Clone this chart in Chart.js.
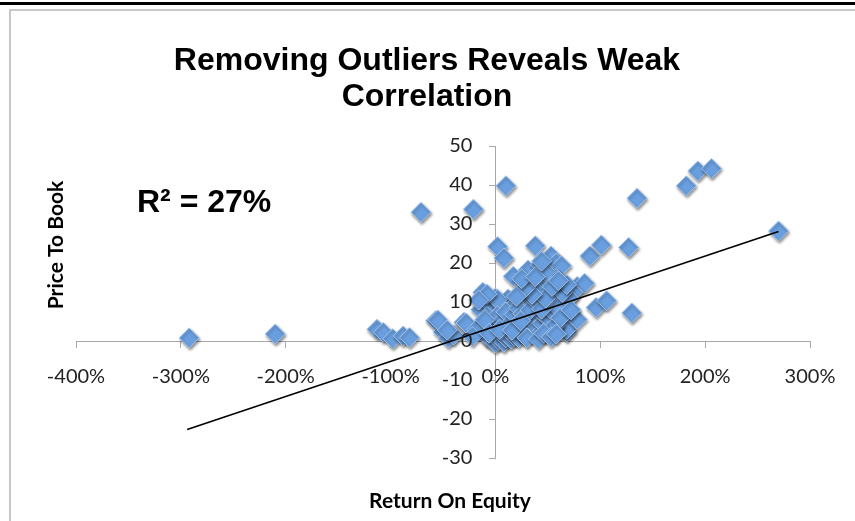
<!DOCTYPE html>
<html>
<head>
<meta charset="utf-8">
<script src="https://cdn.jsdelivr.net/npm/chart.js@4"></script>
<style>
  body { margin: 0; background: #fff; }
  #topbar { position: absolute; left: 0; top: 2px; width: 855px; height: 3px; background: #000; }
  #frame { position: absolute; left: 9px; top: 9px; width: 860px; height: 530px; border-left: 2px solid #c8c8c8; border-top: 2px solid #c8c8c8; }
  #chart { position: absolute; left: 0; top: 0; }
</style>
</head>
<body>
<div id="topbar"></div>
<div id="frame"></div>
<canvas id="chart" width="855" height="521"></canvas>
<script>
// return on equity (%) and price to book for each company
var roe = [
  -292, -210, -113, -107, -98, -88, -82,
  -57, -50, -45, -40, -71, -21, 10,
  2, 8, 17, 31, 38, 43, 53, 58, 63,
  90, 101, 127, 135, 130, 96, 106, 182, 193, 206, 270,
  -12, -14, -30, -5, 0, 12, 78, 85, 74, 70, 66, 68, 60,
  36, 50, 58, 55, 30, 45, 40,
  -55, -46, -28, -8, 2, 14, 24, 40, 52, 65, 68, 78, -8, 8, 30, 43, 55,
  -8, -4, 0, 3, 5, 8, 10, 12, 15, 18, 20, 22, 25, 27, 29, 32, 35, 37, 40, 42, 45, 47, 50, 52, 55, 57, 60, 62,
  -3, 2, 6, 10, 14, 18, 22, 26, 33, 38, 44, 48, 35, 28, 20,
  -18, -22, -10, -16, -6, 4, 16, 24, 30, 41, 46, 53, 58,
  64, 68, 48, 54, 25, 38, 44, 60, 72
];
var priceToBook = [
  0.8, 1.8, 3.0, 2.2, 0.6, 1.3, 0.9,
  5.2, 2.3, 0.8, 1.5, 33.0, 33.8, 39.8,
  24.2, 21.3, 16.6, 18.2, 24.4, 19.5, 21.8, 20.0, 19.3,
  21.8, 24.6, 24.0, 36.6, 7.2, 8.6, 10.3, 39.8, 43.6, 44.2, 28.2,
  12.5, 8.0, 4.8, 9.5, 11.0, 10.8, 14.0, 14.8, 12.5, 11.0, 6.0, 2.3, 3.5,
  14.2, 16.8, 16.0, 11.5, 10.8, 13.0, 9.5,
  5.4, 2.8, 4.6, 6.3, 10.7, 8.0, 9.8, 12.4, 10.7, 9.0, 3.0, 5.5, 12.0, 3.7, 5.6, 6.3, 3.0,
  1.0, 0.3, -0.5, 0.2, 1.5, -0.3, 0.8, 2.0, 0.5, 1.2, 3.0, 0.9, 2.2, 4.0, 1.5, 3.2, 2.0, 5.0, 3.5, 1.8, 4.5, 6.5, 2.8, 5.5, 7.5, 4.0, 8.5, 6.0,
  4.0, 6.5, 5.0, 7.5, 4.5, 6.8, 8.5, 7.0, 8.0, 10.5, 8.2, 11.0, 12.0, 13.5, 11.5,
  3.0, 1.2, 5.5, 10.5, 2.0, 3.0, 2.8, 5.2, 0.8, 0.5, 2.0, 1.0, 1.8,
  12.5, 14.5, 17.8, 14.0, 16.0, 16.5, 20.5, 15.5, 8.0
];
// linear trend line end points
var trendX = [-294, 270];
var trendY = [-22.7, 28.1];

var xTicks = [-400, -300, -200, -100, 0, 100, 200, 300];
var yTicks = [-30, -20, -10, 0, 10, 20, 30, 40, 50];

var titleLines = ['Removing Outliers Reveals Weak', 'Correlation'];
var xTitle = 'Return On Equity';
var yTitle = 'Price To Book';
var rSquared = 'R\u00b2 = 27%';

var points = roe.map(function(v, i) { return {x: v, y: priceToBook[i]}; });
var trend = trendX.map(function(v, i) { return {x: v, y: trendY[i]}; });

var textPlugin = {
  id: 'texts',
  beforeDraw: function(chart) {
    // y axis sits at x = 0, move its labels away from the axis line
    var items = chart.scales.y.getLabelItems(chart.chartArea);
    if (!items._moved) {
      items.forEach(function(it) { it.options.translation[0] -= 23; });
      items._moved = true;
    }
  },
  beforeDatasetDraw: function(chart, args) {
    if (args.index === 1) {
      chart.ctx.save();
      chart.ctx.shadowColor = 'rgba(0,0,0,0.45)';
      chart.ctx.shadowBlur = 3;
      chart.ctx.shadowOffsetX = 1;
      chart.ctx.shadowOffsetY = 2;
    }
  },
  afterDatasetDraw: function(chart, args) {
    if (args.index === 1) chart.ctx.restore();
  },
  afterDraw: function(chart) {
    var ctx = chart.ctx;
    ctx.save();
    ctx.fillStyle = '#000';
    ctx.textAlign = 'center';
    ctx.textBaseline = 'alphabetic';
    ctx.font = 'bold 32px "Liberation Sans", Arial, sans-serif';
    ctx.fillText(titleLines[0], 427, 70);
    ctx.fillText(titleLines[1], 427, 106);

    ctx.textAlign = 'left';
    ctx.font = 'bold 32px "Liberation Sans", Arial, sans-serif';
    ctx.fillText(rSquared, 137, 212);

    ctx.font = 'bold 21px Lato, sans-serif';
    ctx.textAlign = 'center';
    ctx.textBaseline = 'middle';
    ctx.fillText(xTitle, 450, 501);

    ctx.translate(56, 245);
    ctx.rotate(-Math.PI / 2);
    ctx.fillText(yTitle, 0, 0);
    ctx.restore();
  }
};

var ctx = document.getElementById('chart').getContext('2d');
var chart = new Chart(ctx, {
  type: 'scatter',
  data: {
    datasets: [
      {
        type: 'line',
        data: trend,
        borderColor: '#000',
        borderWidth: 1.6,
        pointRadius: 0,
        fill: false,
        order: 0
      },
      {
        data: points,
        pointStyle: 'rectRot',
        pointRadius: 10,
        backgroundColor: '#6a9fdf',
        borderColor: '#a4c4ec',
        borderWidth: 1,
        order: 1
      }
    ]
  },
  options: {
    responsive: false,
    animation: false,
    layout: { padding: { left: 76, right: 45, top: 146, bottom: 63 } },
    plugins: {
      legend: { display: false },
      tooltip: { enabled: false },
      title: { display: false }
    },
    scales: {
      x: {
        type: 'linear',
        position: { y: 0 },
        min: -400,
        max: 300,
        afterBuildTicks: function(s) { s.ticks = xTicks.map(function(v) { return {value: v}; }); },
        afterFit: function(s) { s.height = 0; },
        grid: { drawOnChartArea: false, drawTicks: true, tickLength: 6, color: '#a8a8a8' },
        border: { color: '#a8a8a8', width: 1 },
        ticks: {
          color: '#222',
          padding: 18,
          maxRotation: 0,
          autoSkip: false,
          z: 1,
          font: { family: 'Lato, sans-serif', size: 20 },
          callback: function(v) { return v + '%'; }
        }
      },
      y: {
        type: 'linear',
        position: { x: 0 },
        min: -30,
        max: 50,
        afterBuildTicks: function(s) { s.ticks = yTicks.map(function(v) { return {value: v}; }); },
        afterFit: function(s) { s.width = 0; },
        grid: { drawOnChartArea: false, drawTicks: true, tickLength: 6, color: '#a8a8a8' },
        border: { color: '#a8a8a8', width: 1 },
        ticks: {
          color: '#222',
          autoSkip: false,
          z: 1,
          font: { family: 'Lato, sans-serif', size: 20 }
        }
      }
    }
  },
  plugins: [textPlugin]
});
</script>
</body>
</html>
